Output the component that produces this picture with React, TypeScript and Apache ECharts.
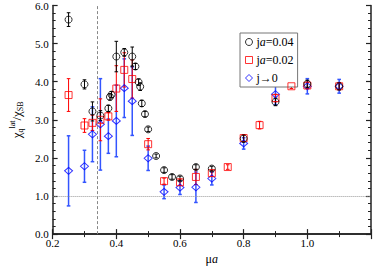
import React, { useEffect, useRef } from "react";
import * as echarts from "echarts";

const xTicks = [0.2, 0.4, 0.6, 0.8, 1.0];

const blackX = [0.25, 0.30, 0.325, 0.35, 0.375, 0.38, 0.385, 0.40, 0.425, 0.45, 0.46, 0.47, 0.475, 0.48, 0.49, 0.50, 0.525, 0.55, 0.575, 0.60, 0.65, 0.70, 0.80, 0.90, 1.00, 1.10];
const blackY = [5.63, 3.93, 3.22, 3.11, 3.30, 3.60, 3.66, 4.66, 4.77, 4.66, 4.40, 3.99, 3.87, 3.43, 3.15, 2.75, 2.05, 1.68, 1.50, 1.46, 1.76, 1.72, 2.51, 3.47, 3.94, 3.88];
const blackErr = [0.18, 0.12, 0.25, 0.13, 0.08, 0.08, 0.08, 0.4, 0.1, 0.25, 0.08, 0.08, 0.1, 0.08, 0.07, 0.06, 0.05, 0.06, 0.06, 0.06, 0.06, 0.06, 0.1, 0.1, 0.1, 0.1];

const redX = [0.25, 0.30, 0.325, 0.35, 0.375, 0.40, 0.425, 0.45, 0.50, 0.55, 0.60, 0.65, 0.70, 0.75, 0.80, 0.85, 0.90, 0.95, 1.00, 1.10];
const redY = [3.65, 2.85, 2.92, 3.0, 3.09, 3.82, 4.31, 4.07, 2.36, 1.39, 1.36, 1.50, 1.60, 1.76, 2.52, 2.86, 3.57, 3.88, 3.90, 3.88];
const redErr = [0.43, 0.18, 0.2, 0.55, 0.1, 0.6, 0.45, 0.5, 0.15, 0.08, 0.08, 0.2, 0.08, 0.06, 0.08, 0.1, 0.1, 0.06, 0.08, 0.08];

const blueX = [0.25, 0.30, 0.325, 0.35, 0.375, 0.40, 0.425, 0.45, 0.50, 0.55, 0.60, 0.65, 0.70, 0.80, 0.90, 1.00, 1.10];
const blueY = [1.66, 1.78, 2.62, 2.88, 2.57, 2.97, 3.83, 3.49, 1.99, 1.11, 1.22, 1.23, 1.46, 2.38, 3.67, 3.88, 3.88];
const blueErr = [0.92, 0.42, 0.72, 1.2, 0.45, 0.94, 0.77, 0.9, 0.32, 0.18, 0.18, 0.4, 0.17, 0.15, 0.27, 0.2, 0.18];

const refX = 0.34;
const refY = 1.0;

const FONT = "Liberation Serif";

function errData(xs: number[], ys: number[], es: number[]) {
  return xs.map((x, i) => [x, ys[i] - es[i], ys[i] + es[i]]);
}

function errSeries(xs: number[], ys: number[], es: number[], color: string, width: number) {
  return {
    type: "custom",
    silent: true,
    data: errData(xs, ys, es),
    encode: { x: 0, y: [1, 2] },
    renderItem: (params: any, api: any) => {
      const x = api.value(0);
      const lo = api.coord([x, api.value(1)]);
      const hi = api.coord([x, api.value(2)]);
      const cw = 1.8;
      const style = { stroke: color, lineWidth: width };
      return {
        type: "group",
        children: [
          { type: "line", shape: { x1: lo[0], y1: lo[1], x2: hi[0], y2: hi[1] }, style },
          { type: "line", shape: { x1: lo[0] - cw, y1: lo[1], x2: lo[0] + cw, y2: lo[1] }, style },
          { type: "line", shape: { x1: hi[0] - cw, y1: hi[1], x2: hi[0] + cw, y2: hi[1] }, style },
        ],
      };
    },
    z: 2,
  };
}

function pts(xs: number[], ys: number[]) {
  return xs.map((x, i) => [x, ys[i]]);
}

export default function App() {
  const ref = useRef<HTMLDivElement>(null);
  useEffect(() => {
    if (!ref.current) return;
    const chart = echarts.init(ref.current, undefined, { renderer: "svg" });
    const axisLine = { show: true, lineStyle: { color: "#222", width: 1.5 } };
    const option: any = {
      animation: false,
      grid: { left: 40, top: 5, right: 1, bottom: 23, containLabel: false },
      legend: {
        left: 240,
        top: 33,
        orient: "vertical",
        backgroundColor: "#fff",
        borderColor: "#777",
        borderWidth: 1,
        borderRadius: 0,
        padding: [3, 4, 3, 5],
        itemWidth: 7,
        itemHeight: 7,
        itemGap: 6,
        itemStyle: { borderWidth: 1 },
        data: ["ja=0.04", "ja=0.02", "j→0"],
        formatter: (n: string) => n.replace("a=", "{i|a}="),
        textStyle: {
          fontFamily: FONT,
          fontSize: 12,
          color: "#000",
          padding: [0, 0, 0, -1],
          rich: { i: { fontFamily: FONT, fontSize: 12, fontStyle: "italic", color: "#000" } },
        },
      },
      xAxis: [
        {
          type: "value",
          min: 0.2,
          max: 1.2,
          interval: 0.2,
          position: "bottom",
          name: "μ{i|a}",
          nameLocation: "middle",
          nameGap: 13,
          nameTextStyle: {
            fontFamily: FONT,
            fontSize: 12,
            color: "#000",
            rich: { i: { fontFamily: FONT, fontSize: 12, fontStyle: "italic", color: "#000" } },
          },
          axisLine,
          axisTick: { show: true, inside: true, length: 5, lineStyle: { color: "#222", width: 1.2 } },
          minorTick: { show: true, splitNumber: 2, length: 3, lineStyle: { color: "#222", width: 1 } },
          axisLabel: {
            margin: 3,
            fontFamily: FONT,
            fontSize: 11,
            color: "#000",
            formatter: (v: number) => (xTicks.some((t) => Math.abs(t - v) < 1e-6) ? v.toFixed(1) : ""),
          },
          splitLine: { show: false },
        },
        {
          type: "value",
          min: 0.2,
          max: 1.2,
          interval: 0.2,
          position: "top",
          axisLine,
          axisTick: { show: true, inside: true, length: 5, lineStyle: { color: "#222", width: 1.2 } },
          minorTick: { show: true, splitNumber: 2, length: 3, lineStyle: { color: "#222", width: 1 } },
          axisLabel: { show: false },
          splitLine: { show: false },
        },
      ],
      yAxis: [
        {
          type: "value",
          min: 0,
          max: 6,
          interval: 1,
          position: "left",
          name: "{c|χ}{s|q}{p|lat}{c|/χ}{s|SB}",
          nameLocation: "middle",
          nameGap: 23,
          nameRotate: 90,
          nameTextStyle: {
            fontFamily: FONT,
            color: "#000",
            rich: {
              c: { fontFamily: FONT, fontSize: 13, color: "#000", lineHeight: 16, verticalAlign: "middle" },
              s: { fontFamily: FONT, fontSize: 8, color: "#000", lineHeight: 16, verticalAlign: "bottom", padding: [6, 0, 0, 0] },
              p: { fontFamily: FONT, fontSize: 8, color: "#000", lineHeight: 16, verticalAlign: "top", padding: [0, 0, 8, 0] },
            },
          },
          axisLine,
          axisTick: { show: true, inside: true, length: 5, lineStyle: { color: "#222", width: 1.2 } },
          minorTick: { show: true, splitNumber: 5, length: 3, lineStyle: { color: "#222", width: 1 } },
          axisLabel: {
            margin: 4,
            fontFamily: FONT,
            fontSize: 11,
            color: "#000",
            formatter: (v: number) => v.toFixed(1),
          },
          splitLine: { show: false },
        },
        {
          type: "value",
          min: 0,
          max: 6,
          interval: 1,
          position: "right",
          axisLine,
          axisTick: { show: true, inside: true, length: 5, lineStyle: { color: "#222", width: 1.2 } },
          minorTick: { show: true, splitNumber: 5, length: 3, lineStyle: { color: "#222", width: 1 } },
          axisLabel: { show: false },
          splitLine: { show: false },
        },
      ],
      series: [
        errSeries(blueX, blueY, blueErr, "#3355ff", 1.5),
        errSeries(redX, redY, redErr, "#ff0000", 1),
        errSeries(blackX, blackY, blackErr, "#000", 1),
        {
          type: "line",
          silent: true,
          data: [],
          markLine: {
            silent: true,
            symbol: "none",
            label: { show: false },
            data: [
              { xAxis: refX, lineStyle: { color: "#888", type: [3, 2], width: 1 } },
              { yAxis: refY, lineStyle: { color: "#999", type: [1, 1], width: 1 } },
            ],
          },
          z: 1,
        },
        {
          name: "ja=0.04",
          type: "scatter",
          symbol: "circle",
          symbolSize: 7,
          data: pts(blackX, blackY),
          itemStyle: { color: "rgba(0,0,0,0)", borderColor: "#000", borderWidth: 1 },
          z: 5,
        },
        {
          name: "ja=0.02",
          type: "scatter",
          symbol: "rect",
          symbolSize: 7,
          data: pts(redX, redY),
          itemStyle: { color: "rgba(0,0,0,0)", borderColor: "#ff0000", borderWidth: 1 },
          z: 4,
        },
        {
          name: "j→0",
          type: "scatter",
          symbol: "diamond",
          symbolSize: [8, 7],
          data: pts(blueX, blueY),
          itemStyle: { color: "rgba(0,0,0,0)", borderColor: "#0000ff", borderWidth: 1 },
          z: 3,
        },
      ],
    };
    chart.setOption(option);
    return () => chart.dispose();
  }, []);
  return <div ref={ref} style={{ width: 374, height: 270, position: "absolute", left: 0, top: 0 }} />;
}
